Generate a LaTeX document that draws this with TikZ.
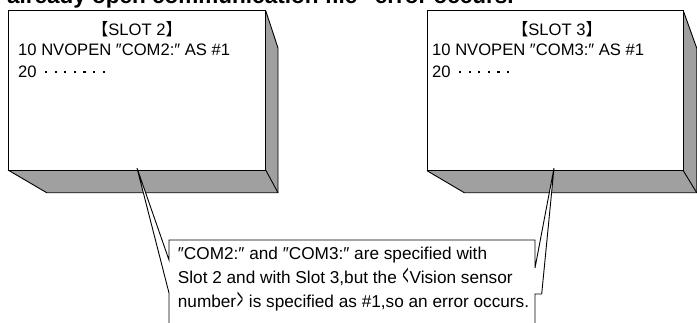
\documentclass[tikz,border=0pt]{standalone}
\usepackage{fontspec}
\setmainfont{Liberation Sans}
\newfontfamily\cjkfont{Noto Sans CJK JP}
\newcommand\sdot{\makebox[9.6pt]{\raisebox{4.2pt}{\rule{2.1pt}{2.1pt}}}}
\newcommand\langbr{\makebox[8pt]{\raisebox{-2.2pt}{\scalebox{0.6}[1.75]{<}}}}
\newcommand\rangbr{\makebox[8pt]{\raisebox{-2.2pt}{\scalebox{0.6}[1.75]{>}}}}
\definecolor{shadowgray}{HTML}{A0A0A0}
\tikzset{
  face/.style={draw=black, line width=0.9pt, fill=white},
  boxtext/.style={anchor=base west, inner sep=0pt, font=\fontsize{16.6}{21}\selectfont},
  calltext/.style={anchor=base west, inner sep=0pt, font=\fontsize{17.2}{24}\selectfont},
  callout/.style={draw=black, line width=0.9pt, fill=white},
  title/.style={anchor=base west, inner sep=0pt, font=\bfseries\fontsize{22.5}{24}\selectfont}
}
\begin{document}
\begin{tikzpicture}[x=1pt,y=-1pt]
\useasboundingbox (0,0) rectangle (697,322);
\clip (0,0) rectangle (697,322);
\fill[white] (0,0) rectangle (697,322);

% title (cut off at the top, as in the reference)
\node[title] (title) at (7,3.8) {already open communication file" error occurs.};

% left box (SLOT 2)
\coordinate (L1) at (8,10.7);
\coordinate (L2) at (265.7,170);
\fill[shadowgray] (8,170) -- (46.7,192.7) -- (278,192.7) -- (278,48) -- (265.7,10.7) -- (265.7,170) -- cycle;
\draw[line width=0.9pt] (8,170) -- (46.7,192.7) -- (278,192.7) -- (278,48) -- (265.7,10.7);
\draw[line width=0.9pt] (265.7,170) -- (278,192.7);
\draw[face] (L1) rectangle (L2);

% right box (SLOT 3)
\coordinate (R1) at (427,10.7);
\coordinate (R2) at (683.3,170.7);
\fill[shadowgray] (427,170.7) -- (464.3,192.7) -- (696.7,192.7) -- (696.7,48) -- (683.3,10.7) -- (683.3,170.7) -- cycle;
\draw[line width=0.9pt] (427,170.7) -- (464.3,192.7) -- (696.7,192.7) -- (696.7,48) -- (683.3,10.7);
\draw[line width=0.9pt] (683.3,170.7) -- (696.7,192.7);
\draw[face] (R1) rectangle (R2);

% texts of the left box
\node[boxtext, anchor=base] (l1) at (137,35) {{\cjkfont 【}SLOT 2{\cjkfont 】}};
\node[boxtext] (l2) at (18,55.5) {10 NVOPEN ″COM2:″ AS \#1};
\node[boxtext] (l3) at (18,77) {20 \sdot\sdot\sdot\sdot\sdot\sdot\sdot};

% texts of the right box
\node[boxtext, anchor=base] (r1) at (557,35) {{\cjkfont 【}SLOT 3{\cjkfont 】}};
\node[boxtext] (r2) at (432,55.5) {10 NVOPEN ″COM3:″ AS \#1};
\node[boxtext] (r3) at (432,77) {20 \sdot\sdot\sdot\sdot\sdot\sdot};

% callout with two wedges
\coordinate (tipL) at (137,168);
\coordinate (tipR) at (554,168);
\draw[callout] (169,330) -- (169,293) -- (tipL) -- (169,260) -- (169,240) -- (535,240) -- (535,268) -- (tipR) -- (541.7,294) -- (535,294) -- (535,330);

\node[calltext] (c1) at (177.7,259) {″COM2:″ and ″COM3:″ are specified with};
\node[calltext] (c2) at (177.7,283) {Slot 2 and with Slot 3,but the \langbr Vision sensor};
\node[calltext] (c3) at (177.7,307) {number\rangbr\ is specified as \#1,so an error occurs.};
\end{tikzpicture}
\end{document}
